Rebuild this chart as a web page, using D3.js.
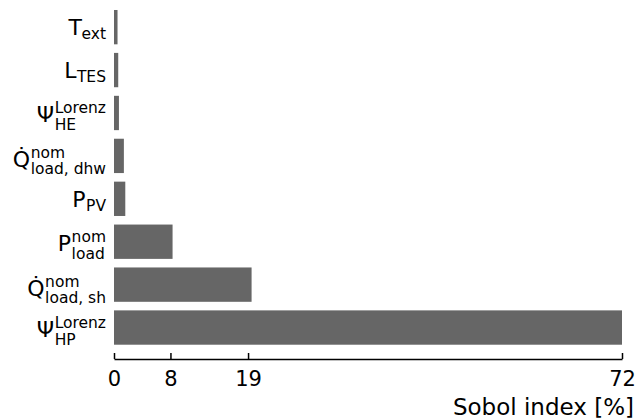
<!DOCTYPE html>
<html>
<head>
<meta charset="utf-8">
<script src="https://cdn.jsdelivr.net/npm/d3@7"></script>
<style>
  html, body { margin: 0; padding: 0; background: #fff; }
  svg { display: block; font-family: "DejaVu Sans", sans-serif; }
</style>
</head>
<body>
<svg id="chart" width="639" height="420"></svg>
<script>
// Sobol sensitivity indices (first-order, %) per input parameter, top to bottom
const categories = ["T_ext", "L_TES", "Psi_HE", "Qdot_dhw", "P_PV", "P_load", "Qdot_sh", "Psi_HP"];
const sobolValues = [0.5, 0.6, 0.7, 1.4, 1.6, 8.3, 19.5, 72];

// Label pieces: base symbol, superscript, subscript
const labelBase = ["T", "L", "Ψ", "Q\u0307", "P", "P", "Q\u0307", "Ψ"];
const labelSup  = ["", "", "Lorenz", "nom", "", "nom", "nom", "Lorenz"];
const labelSub  = ["ext", "TES", "HE", "load, dhw", "PV", "load", "load, sh", "HP"];

const xTicks = [0, 8, 19, 72];
const xTitle = "Sobol index [%]";

const svg = d3.select("#chart");

const x = d3.scaleLinear().domain([0, 72]).range([114, 622]);
const y = d3.scaleBand()
  .domain(categories)
  .range([5.7, 349])
  .paddingInner(0.2)
  .paddingOuter(0.1);

const rows = categories.map((c, i) => ({
  key: c, value: sobolValues[i],
  base: labelBase[i], sup: labelSup[i], sub: labelSub[i]
}));

// Bars
svg.append("g")
  .selectAll("rect")
  .data(rows)
  .join("rect")
  .attr("x", x(0))
  .attr("y", d => y(d.key))
  .attr("width", d => x(d.value) - x(0))
  .attr("height", y.bandwidth())
  .attr("fill", "#666666");

// X axis with inward ticks
const xAxis = d3.axisBottom(x)
  .tickValues(xTicks)
  .tickFormat(d3.format("d"))
  .tickSizeInner(-6)
  .tickSizeOuter(0)
  .tickPadding(0);

const gx = svg.append("g")
  .attr("transform", "translate(0,359)")
  .call(xAxis);
gx.select(".domain").attr("stroke", "#000").attr("stroke-width", 1.5);
gx.selectAll(".tick line").attr("stroke", "#000").attr("stroke-width", 1.5);
gx.selectAll(".tick text")
  .attr("y", 27)
  .attr("dy", null)
  .attr("fill", "#000")
  .style("font-family", "DejaVu Sans, sans-serif")
  .style("font-size", "21px");

svg.append("text")
  .attr("x", 634)
  .attr("y", 415)
  .attr("text-anchor", "end")
  .style("font-size", "23px")
  .attr("fill", "#000")
  .text(xTitle);

// Category labels with stacked super/subscripts, right-aligned to the bars
const labelRight = 106;
const mainSize = 22, smallSize = 15.5;

rows.forEach(d => {
  const cy = y(d.key) + y.bandwidth() / 2;
  const g = svg.append("g");
  const stacked = d.sup !== "";
  const isQ = d.base.startsWith("Q");
  const mainBase = stacked ? (isQ ? 11.5 : 9.5) : 8;
  const supBase = isQ ? 2.5 : 0;
  const subBase = stacked ? (isQ ? 18.5 : 17) : 12;

  const main = g.append("text")
    .attr("x", 0).attr("y", cy + mainBase)
    .style("font-size", mainSize + "px")
    .attr("fill", "#000")
    .text(d.base);
  const mw = main.node().getComputedTextLength();
  const sx = mw + (d.base === "T" ? -0.5 : 0.5);

  let w = 0;
  if (stacked) {
    const s = g.append("text")
      .attr("x", sx).attr("y", cy + supBase)
      .style("font-size", smallSize + "px")
      .attr("fill", "#000")
      .text(d.sup);
    w = Math.max(w, s.node().getComputedTextLength());
  }
  const b = g.append("text")
    .attr("x", sx).attr("y", cy + subBase)
    .style("font-size", smallSize + "px")
    .attr("fill", "#000")
    .text(d.sub);
  w = Math.max(w, b.node().getComputedTextLength());

  g.attr("transform", `translate(${labelRight - (sx + w)},0)`);
});
</script>
</body>
</html>
